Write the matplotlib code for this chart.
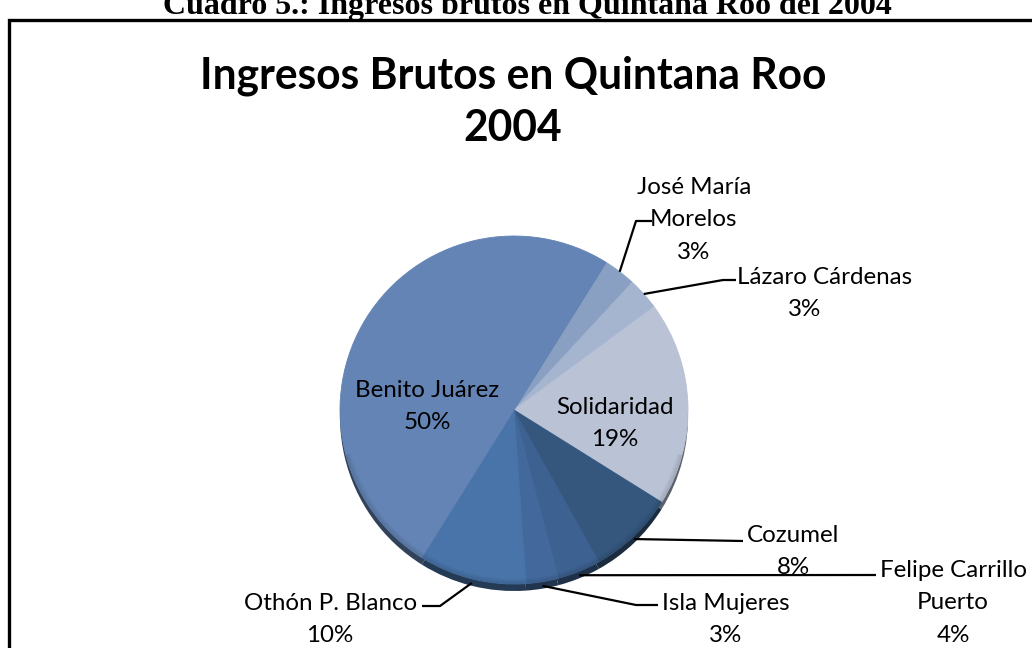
import matplotlib
matplotlib.use("Agg")
import matplotlib.pyplot as plt
from matplotlib.patches import Rectangle, Wedge
from matplotlib.colors import to_rgb
import numpy as np

# ---- data -------------------------------------------------------------
municipios = ["José María Morelos", "Lázaro Cárdenas", "Solidaridad", "Cozumel",
              "Felipe Carrillo Puerto", "Isla Mujeres", "Othón P. Blanco",
              "Benito Juárez"]
porcentajes = [3, 3, 19, 8, 4, 3, 10, 50]
colores = ["#8aa0c2", "#a5b4cf", "#bac2d6", "#35577e",
           "#3d6190", "#43699c", "#4874a9", "#6384b4"]
lineas_etiqueta = [["José María", "Morelos"], ["Lázaro Cárdenas"], ["Solidaridad"],
                   ["Cozumel"], ["Felipe Carrillo", "Puerto"], ["Isla Mujeres"],
                   ["Othón P. Blanco"], ["Benito Juárez"]]
titulo = ["Ingresos Brutos en Quintana Roo", "2004"]
encabezado = "Cuadro 5.: Ingresos brutos en Quintana Roo del 2004"

# ---- layout (pixel units, y measured from the top) --------------------
W, H = 1032, 648
CX, CY, R = 514, 410, 174
RIM = 7
LINE = 32.5
# centre of the first text line of each label
pos_etiqueta = [(694, 185), (825, 275), (615, 405), (793, 533),
                (953, 568), (726, 601), (331, 601), (427, 388)]
# x of the percentage line of each label
pos_pct = [694, 805, 615, 793, 953, 726, 330, 427]
# leader line elbows (after the point on the pie edge)
codos = [[(636, 221), (652, 221)],
         [(723, 280), (736, 280)],
         None,
         [(743, 541)],
         [(876, 575)],
         [(636, 605), (658, 605)],
         [(440, 606), (422, 606)],
         None]

SANS = ["Lato", "DejaVu Sans"]
SERIF = ["Liberation Serif", "DejaVu Serif"]


def Y(y):
    return H - y


fig = plt.figure(figsize=(W / 100, H / 100), dpi=100)
fig.patch.set_facecolor("white")
ax = fig.add_axes([0, 0, 1, 1])
renderer = fig.canvas.get_renderer()


def fit_size(text, width_px, **kw):
    t = ax.text(0, 0, text, fontsize=20, **kw)
    w = t.get_window_extent(renderer=renderer).width
    t.remove()
    return 20 * width_px / w


def put(x, y_center, text, size, cap=0.72, **kw):
    em = size * 100 / 72
    ax.text(x, Y(y_center + 0.5 * cap * em), text, fontsize=size,
            ha="center", va="baseline", **kw)


# ---- pie: rim (side of the disc) then the top face --------------------
oscuros = [tuple(np.array(to_rgb(c)) * 0.5) for c in colores]
rim, _ = ax.pie(porcentajes, colors=oscuros, startangle=58, counterclock=False,
                center=(CX, Y(CY + RIM)), radius=R,
                wedgeprops=dict(linewidth=0))
for w in rim:
    w.set_zorder(1)

cara, _ = ax.pie(porcentajes, colors=colores, startangle=58, counterclock=False,
                 center=(CX, Y(CY)), radius=R,
                 wedgeprops=dict(linewidth=0.6))
for w in cara:
    w.set_edgecolor(w.get_facecolor())
    w.set_zorder(2)

# soft bevel along the lower edge of the face
for k in range(5):
    ax.add_patch(Wedge((CX, Y(CY)), R - k, 195, 345, width=1.2,
                       facecolor="black", edgecolor="none",
                       alpha=0.10 * (5 - k) / 5, zorder=3))

# ---- labels -----------------------------------------------------------
lab_size = fit_size("Lázaro Cárdenas", 175, family=SANS)
for i, (lineas, p) in enumerate(zip(lineas_etiqueta, porcentajes)):
    x0, y0 = pos_etiqueta[i]
    for j, s in enumerate(lineas):
        put(x0, y0 + j * LINE, s, lab_size, family=SANS, color="black", zorder=5)
    put(pos_pct[i], y0 + len(lineas) * LINE, f"{p}%", lab_size,
        family=SANS, color="black", zorder=5)

    if codos[i] is not None:
        w = cara[i]
        mid = np.deg2rad((w.theta1 + w.theta2) / 2)
        ex = CX + R * np.cos(mid)
        ey = CY - R * np.sin(mid)
        if np.sin(mid) < 0:
            ey += RIM * (-np.sin(mid)) * 0.6
        xs = [ex] + [c[0] for c in codos[i]]
        ys = [ey] + [c[1] for c in codos[i]]
        ax.plot(xs, [Y(v) for v in ys], color="black", lw=1.6,
                solid_capstyle="butt", zorder=4)

# ---- title ------------------------------------------------------------
t_size = fit_size(titulo[0], 626, family=SANS, fontweight="bold")
put(513, 73, titulo[0], t_size, family=SANS, fontweight="bold")
put(513, 126, titulo[1], t_size, family=SANS, fontweight="bold")

# ---- caption above the frame (partly cut by the page edge) ------------
c_size = fit_size(encabezado, 728, family=SERIF, fontweight="bold")
ax.text(527, Y(14), encabezado, fontsize=c_size, family=SERIF,
        fontweight="bold", ha="center", va="baseline")

# ---- frame ------------------------------------------------------------
ax.add_patch(Rectangle((9, Y(668)), 1050, 648, fill=False,
                       edgecolor="black", lw=2.4, zorder=6))

ax.set_xlim(0, W)
ax.set_ylim(0, H)
ax.set_aspect("auto")
ax.set_axis_off()

fig.savefig("out.png", dpi=100, facecolor="white")
